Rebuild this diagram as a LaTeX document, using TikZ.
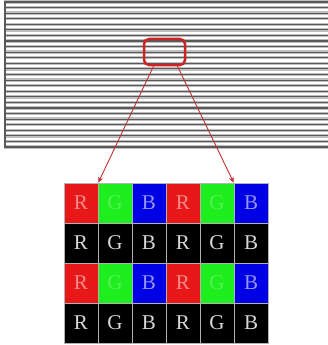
\documentclass[tikz,border=0pt]{standalone}
\usepackage{fontspec}
\setmainfont{Liberation Serif}
\usetikzlibrary{arrows.meta}
\definecolor{cr}{RGB}{232,24,24}
\definecolor{cg}{RGB}{30,238,30}
\definecolor{cb}{RGB}{0,0,228}
\definecolor{tr}{RGB}{242,140,140}
\definecolor{tg}{RGB}{85,240,85}
\definecolor{tb}{RGB}{150,150,246}
\definecolor{tk}{RGB}{215,215,215}
\definecolor{zred}{RGB}{205,35,35}
\definecolor{pred}{RGB}{190,50,50}
\begin{document}
\begin{tikzpicture}[x=1pt,y=-1pt,
  stripehalo/.style={draw=gray!50,line width=3.4pt},
  stripecore/.style={draw=gray!70!black,line width=1.1pt},
  leftborder/.style={draw=gray!70!black,line width=2.2pt},
  zoombox/.style={draw=zred,line width=2.5pt,rounded corners=5pt,minimum width=41pt,minimum height=26pt,inner sep=0pt},
  cell/.style={draw=gray!60,line width=0.5pt,minimum width=34pt,minimum height=40pt,inner sep=0pt,font=\fontsize{21}{21}\selectfont},
  ptr/.style={draw=pred,line width=0.9pt,-{Stealth[length=6pt,width=5pt]}}]
\useasboundingbox (0,0) rectangle (328,345);
\fill[white] (0,0) rectangle (328,345);
% striped panel
\foreach \k in {0,...,26}{
  \draw[stripehalo] (4,{2+\k*145/26}) -- (328,{2+\k*145/26});
}
\foreach \k in {0,...,26}{
  \draw[stripecore] (4,{2+\k*145/26}) -- (328,{2+\k*145/26});
}
\draw[leftborder] (5,1) -- (5,148);
% zoom box
\node[zoombox] (zb) at (164.5,52) {};
% pixel grid
\foreach \c/\L/\F/\T in {1/R/cr/tr,2/G/cg/tg,3/B/cb/tb,4/R/cr/tr,5/G/cg/tg,6/B/cb/tb}{
  \node[cell,fill=\F,text=\T] (c-1-\c) at ({64+34*(\c-0.5)},203) {\L};
  \node[cell,fill=black,text=tk] (c-2-\c) at ({64+34*(\c-0.5)},243) {\L};
  \node[cell,fill=\F,text=\T] (c-3-\c) at ({64+34*(\c-0.5)},283) {\L};
  \node[cell,fill=black,text=tk] (c-4-\c) at ({64+34*(\c-0.5)},323) {\L};
}
% connectors
\draw[ptr] ([xshift=-11pt]zb.south) -- (c-1-1.north east);
\draw[ptr] ([xshift=13pt]zb.south) -- (c-1-6.north west);
\end{tikzpicture}
\end{document}
